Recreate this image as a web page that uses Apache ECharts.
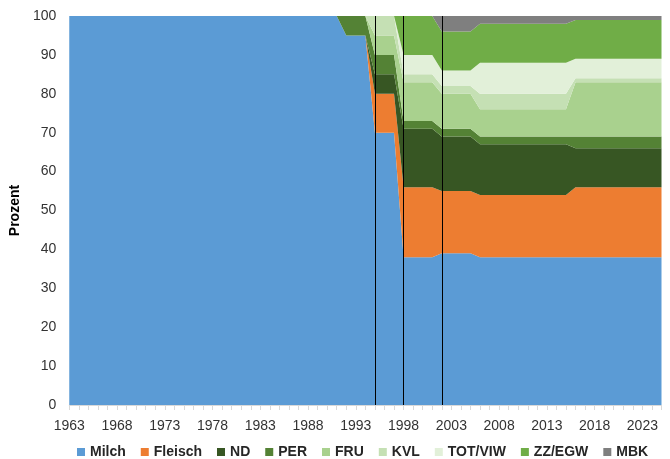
<!DOCTYPE html>
<html>
<head>
<meta charset="utf-8">
<script src="https://cdn.jsdelivr.net/npm/echarts@6/dist/echarts.min.js"></script>
<style>
  html, body { margin: 0; padding: 0; background: #fff; }
  #main { width: 670px; height: 459px; }
</style>
</head>
<body>
<div id="main"></div>
<script>
var years = [];
for (var y = 1963; y <= 2025; y++) years.push(String(y));

// Anteile in Prozent, 1963-2025 (je Zeile 10 Jahre)
var milch = [
  100,100,100,100,100,100,100,100,100,100,   // 1963-1972
  100,100,100,100,100,100,100,100,100,100,   // 1973-1982
  100,100,100,100,100,100,100,100,100,95,    // 1983-1992
  95,95,70,70,70,38,38,38,38,39,             // 1993-2002
  39,39,39,38,38,38,38,38,38,38,             // 2003-2012
  38,38,38,38,38,38,38,38,38,38,             // 2013-2022
  38,38,38                                   // 2023-2025
];
var fleisch = [
  0,0,0,0,0,0,0,0,0,0,
  0,0,0,0,0,0,0,0,0,0,
  0,0,0,0,0,0,0,0,0,0,
  0,0,10,10,10,18,18,18,18,16,
  16,16,16,16,16,16,16,16,16,16,
  16,16,16,18,18,18,18,18,18,18,
  18,18,18
];
var nd = [
  0,0,0,0,0,0,0,0,0,0,
  0,0,0,0,0,0,0,0,0,0,
  0,0,0,0,0,0,0,0,0,0,
  0,0,5,5,5,15,15,15,15,14,
  14,14,14,13,13,13,13,13,13,13,
  13,13,13,10,10,10,10,10,10,10,
  10,10,10
];
var per = [
  0,0,0,0,0,0,0,0,0,0,
  0,0,0,0,0,0,0,0,0,0,
  0,0,0,0,0,0,0,0,0,5,
  5,5,5,5,5,2,2,2,2,2,
  2,2,2,2,2,2,2,2,2,2,
  2,2,2,3,3,3,3,3,3,3,
  3,3,3
];
var fru = [
  0,0,0,0,0,0,0,0,0,0,
  0,0,0,0,0,0,0,0,0,0,
  0,0,0,0,0,0,0,0,0,0,
  0,0,5,5,5,10,10,10,10,9,
  9,9,9,7,7,7,7,7,7,7,
  7,7,7,14,14,14,14,14,14,14,
  14,14,14
];
var kvl = [
  0,0,0,0,0,0,0,0,0,0,
  0,0,0,0,0,0,0,0,0,0,
  0,0,0,0,0,0,0,0,0,0,
  0,0,5,5,5,2,2,2,2,2,
  2,2,2,4,4,4,4,4,4,4,
  4,4,4,1,1,1,1,1,1,1,
  1,1,1
];
var totViw = [
  0,0,0,0,0,0,0,0,0,0,
  0,0,0,0,0,0,0,0,0,0,
  0,0,0,0,0,0,0,0,0,0,
  0,0,0,0,0,5,5,5,5,4,
  4,4,4,8,8,8,8,8,8,8,
  8,8,8,5,5,5,5,5,5,5,
  5,5,5
];
var zzEgw = [
  0,0,0,0,0,0,0,0,0,0,
  0,0,0,0,0,0,0,0,0,0,
  0,0,0,0,0,0,0,0,0,0,
  0,0,0,0,0,10,10,10,10,10,
  10,10,10,10,10,10,10,10,10,10,
  10,10,10,10,10,10,10,10,10,10,
  10,10,10
];
var mbk = [
  0,0,0,0,0,0,0,0,0,0,
  0,0,0,0,0,0,0,0,0,0,
  0,0,0,0,0,0,0,0,0,0,
  0,0,0,0,0,0,0,0,0,4,
  4,4,4,2,2,2,2,2,2,2,
  2,2,2,1,1,1,1,1,1,1,
  1,1,1
];
var breakYears = ['1995', '1998', '2002'];

var names = ['Milch', 'Fleisch', 'ND', 'PER', 'FRU', 'KVL', 'TOT/VIW', 'ZZ/EGW', 'MBK'];
var values = [milch, fleisch, nd, per, fru, kvl, totViw, zzEgw, mbk];
var colors = ['#5B9BD5', '#ED7D31', '#375623', '#548235', '#A9D18E', '#C5E0B4', '#E2F0D9', '#70AD47', '#7F7F7F'];

var font = 'Liberation Sans, Arial, sans-serif';

var series = names.map(function (n, i) {
    return {
        name: n,
        type: 'line',
        stack: 'total',
        data: values[i],
        showSymbol: false,
        symbol: 'none',
        lineStyle: { width: 0 },
        areaStyle: { color: colors[i], opacity: 1 },
        itemStyle: { color: colors[i] },
        z: 2
    };
});
// senkrechte Trennlinien
series[series.length - 1].markLine = {
    silent: true,
    symbol: 'none',
    label: { show: false },
    lineStyle: { color: '#000', width: 1, type: 'solid' },
    data: breakYears.map(function (b) { return { xAxis: b }; })
};

var myChart = echarts.init(document.getElementById('main'));
myChart.setOption({
    animation: false,
    color: colors,
    grid: { left: 66.5, right: 8.5, top: 16, bottom: 54 },
    legend: {
        left: 72,
        bottom: -5,
        icon: 'rect',
        itemWidth: 8,
        itemHeight: 8,
        itemGap: 15,
        textStyle: { fontFamily: font, fontSize: 14, fontWeight: 'bold', color: '#262626' },
        data: names
    },
    xAxis: {
        type: 'category',
        data: years,
        boundaryGap: false,
        axisLine: { lineStyle: { color: '#d9d9d9' } },
        axisTick: { interval: 0, length: 5, lineStyle: { color: '#d9d9d9' } },
        axisLabel: { interval: 4, margin: 14, fontFamily: font, fontSize: 14, color: '#333' },
        splitLine: { show: false }
    },
    yAxis: {
        type: 'value',
        min: 0,
        max: 100,
        interval: 10,
        name: 'Prozent',
        nameLocation: 'middle',
        nameGap: 37,
        nameTextStyle: { fontFamily: font, fontSize: 14, fontWeight: 'bold', color: '#000' },
        axisLine: { show: false },
        axisTick: { show: false },
        axisLabel: { margin: 13, fontFamily: font, fontSize: 14, color: '#333' },
        splitLine: { show: false }
    },
    series: series
});
</script>
</body>
</html>
